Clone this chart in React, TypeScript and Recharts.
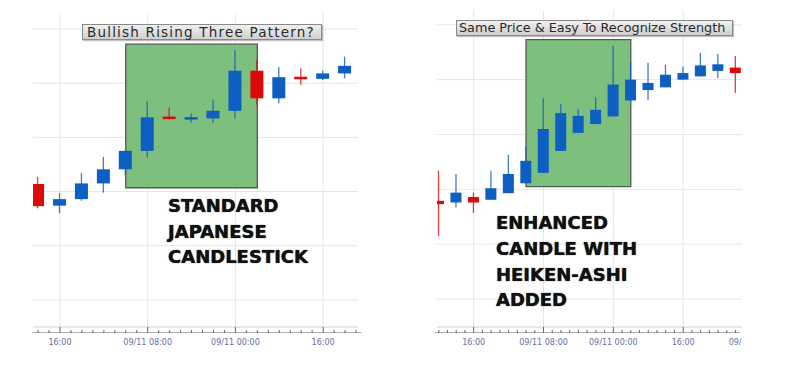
import { Bar, CartesianGrid, ComposedChart, ReferenceArea, XAxis, YAxis } from 'recharts';

// standard candles (left panel)
const leftOpen = [21.4, 17.4, 18.6, 21.5, 24.1, 27.5, 33.7, 33.4, 33.5, 34.9, 42.3, 37.2, 41.1, 40.8, 41.8];
const leftClose = [17.3, 18.6, 21.5, 24.1, 27.5, 33.7, 33.5, 33.6, 34.9, 42.3, 37.2, 41.1, 40.8, 41.8, 43.2];
const leftHigh = [22.7, 19.7, 23.4, 26.4, 27.7, 36.6, 35.5, 34.4, 37.0, 46.1, 44.3, 43.0, 42.7, 42.3, 44.9];
const leftLow = [16.9, 16.0, 18.3, 19.8, 23.0, 26.3, 33.4, 32.7, 32.7, 33.5, 36.0, 36.3, 39.7, 40.6, 40.9];
const leftMajorIdx = [1, 5, 9, 13];
const leftMajorLabels = ['16:00', '09/11 08:00', '09/11 00:00', '16:00'];
const leftBox = { x: [4, 10], y: [20.7, 47.2] };

// heiken-ashi candles (right panel)
const rightOpen = [17.9, 17.6, 18.6, 18.1, 19.3, 21.1, 23.0, 27.0, 30.3, 31.9, 33.3, 36.2, 38.1, 38.6, 40.0, 40.6, 41.6, 42.2];
const rightClose = [17.3, 19.4, 17.6, 20.2, 22.8, 25.2, 31.0, 33.9, 33.4, 34.5, 39.1, 40.0, 39.4, 40.9, 41.2, 42.6, 42.8, 41.2];
const rightHigh = [23.4, 22.8, 19.4, 23.4, 26.3, 27.8, 36.6, 35.5, 34.6, 36.8, 46.2, 43.2, 43.1, 42.7, 42.4, 44.9, 44.7, 44.3];
const rightLow = [11.5, 16.7, 15.7, 18.1, 19.3, 21.1, 23.0, 27.0, 30.3, 31.9, 33.3, 36.2, 36.3, 38.6, 40.0, 40.6, 40.3, 37.6];
const rightMajorIdx = [2, 6, 10, 14, 18];
const rightMajorLabels = ['16:00', '09/11 08:00', '09/11 00:00', '16:00', '09/12 08:00'];
const rightBox = { x: [5, 11], y: [20.5, 47.3] };

const gridValues = [0, 10, 20, 30, 40, 50];

const BLUE = '#0d5fc2';
const RED = '#dd0a0a';

function buildRows(open: number[], close: number[], high: number[], low: number[]) {
  return open.map((o, i) => ({ i, open: o, close: close[i], high: high[i], low: low[i], range: [low[i], high[i]] }));
}

function halfSteps(domain: number[]) {
  const out: number[] = [];
  for (let v = Math.ceil(domain[0] * 2) / 2; v <= domain[1]; v += 0.5) out.push(v);
  return out;
}

function Candle(props: any) {
  const { x, y, width, height, payload } = props;
  const { open, close, high, low } = payload;
  const top = Math.min(y, y + height);
  const h = Math.abs(height);
  const k = high === low ? 0 : h / (high - low);
  const yOf = (v: number) => top + (high - v) * k;
  const color = close >= open ? BLUE : RED;
  const cx = x + width / 2;
  let bodyTop = yOf(Math.max(open, close));
  let bodyH = Math.abs(open - close) * k;
  if (bodyH < 2.5) {
    bodyTop = bodyTop + bodyH / 2 - 1.25;
    bodyH = 2.5;
  }
  return (
    <g>
      <line x1={cx} x2={cx} y1={top} y2={top + h} stroke={color} strokeOpacity={0.8} strokeWidth={1.3} />
      <rect x={x} y={bodyTop} width={width} height={bodyH} fill={color} />
    </g>
  );
}

function makeTick(majors: number[], labels: string[], stepPx: number) {
  return (props: any) => {
    const { x, y, payload } = props;
    const m = majors.indexOf(payload.value);
    return (
      <g>
        <line x1={x - stepPx / 2} x2={x + stepPx / 2} y1={y + 5.5} y2={y + 5.5} stroke="#9a9a9a" strokeWidth={0.8} />
        <line x1={x} x2={x} y1={m >= 0 ? y : y + 3} y2={y + 6} stroke="#666" strokeWidth={1} />
        {m >= 0 && (
          <text x={x} y={y + 18} textAnchor="middle" fontFamily="DejaVu Sans" fontSize={8} fill="#6a6aa8">
            {labels[m]}
          </text>
        )}
      </g>
    );
  };
}

// map a domain value onto the plot's pixel span (same linear mapping the axes use)
function lerp(v: number, domain: number[], start: number, size: number, flip: boolean) {
  const t = (v - domain[0]) / (domain[1] - domain[0]);
  return flip ? start + (1 - t) * size : start + t * size;
}

interface PanelProps {
  rows: any[];
  xDomain: number[];
  yDomain: number[];
  majors: number[];
  labels: string[];
  box: { x: number[]; y: number[] };
  width: number;
  margin: { top: number; right: number; bottom: number; left: number };
  barSize: number;
  stepPx: number;
}

function Panel({ rows, xDomain, yDomain, majors, labels, box, width, margin, barSize, stepPx }: PanelProps) {
  return (
    <ComposedChart width={width} height={365} data={rows} margin={margin}>
      <YAxis hide type="number" domain={yDomain} ticks={gridValues} allowDataOverflow />
      <XAxis xAxisId="bars" hide type="number" dataKey="i" domain={xDomain} ticks={rows.map((r) => r.i)} allowDataOverflow />
      <XAxis
        xAxisId="axis"
        type="number"
        dataKey="i"
        domain={xDomain}
        ticks={halfSteps(xDomain).concat(majors.filter((v) => v > xDomain[1]))}
        interval={0}
        allowDataOverflow
        height={38}
        tickLine={false}
        tickSize={0}
        tickMargin={0}
        axisLine={{ stroke: '#c6d3e6', strokeWidth: 1.2 }}
        tick={makeTick(majors, labels, stepPx)}
      />
      <CartesianGrid
        xAxisId="bars"
        stroke="#e6e6e6"
        verticalCoordinatesGenerator={({ offset }: any) =>
          majors.filter((v) => v <= xDomain[1]).map((v) => lerp(v, xDomain, offset.left, offset.width, false))
        }
        horizontalCoordinatesGenerator={({ offset }: any) =>
          gridValues.map((v) => lerp(v, yDomain, offset.top, offset.height, true))
        }
      />
      <ReferenceArea
        xAxisId="bars"
        x1={box.x[0]}
        x2={box.x[1]}
        y1={box.y[0]}
        y2={box.y[1]}
        fill="#66b466"
        fillOpacity={0.85}
        stroke="#4f5c4f"
        strokeWidth={1.3}
        strokeOpacity={1}
      />
      <Bar xAxisId="bars" dataKey="range" barSize={barSize} isAnimationActive={false} shape={Candle} />
    </ComposedChart>
  );
}

const titleStyle = {
  position: 'absolute' as const,
  boxSizing: 'border-box' as const,
  height: 16,
  border: '1px solid #8a8a8a',
  background: 'linear-gradient(#f0f0f0, #cfcfcf)',
  fontFamily: 'DejaVu Sans',
  color: '#2a2a2a',
  lineHeight: '14px',
  whiteSpace: 'nowrap' as const,
  boxShadow: '1px 1px 1px rgba(0,0,0,0.25)',
};

const bigText = {
  position: 'absolute' as const,
  fontFamily: 'DejaVu Sans',
  fontWeight: 'bold' as const,
  fontSize: 18,
  color: '#111',
  textShadow: '0 0 1px #000',
  whiteSpace: 'nowrap' as const,
};

export default function App() {
  const leftRows = buildRows(leftOpen, leftClose, leftHigh, leftLow);
  const rightRows = buildRows(rightOpen, rightClose, rightHigh, rightLow);
  return (
    <div style={{ position: 'absolute', left: 0, top: 0, width: 800, height: 365, background: '#fff', overflow: 'hidden' }}>
      <div style={{ position: 'absolute', left: 0, top: 0, width: 400, height: 365 }}>
        <Panel
          rows={leftRows}
          xDomain={[-0.23, 14.59]}
          yDomain={[-5, 52.95]}
          majors={leftMajorIdx}
          labels={leftMajorLabels}
          box={leftBox}
          width={400}
          margin={{ top: 13, right: 42, bottom: 0, left: 33 }}
          barSize={13}
          stepPx={11}
        />
      </div>
      <div style={{ position: 'absolute', left: 400, top: 0, width: 342, height: 365, overflow: 'hidden' }}>
        <Panel
          rows={rightRows}
          xDomain={[-0.1, 17.37]}
          yDomain={[-5.1, 52.7]}
          majors={rightMajorIdx}
          labels={rightMajorLabels}
          box={rightBox}
          width={342}
          margin={{ top: 10, right: 0, bottom: 0, left: 37 }}
          barSize={11}
          stepPx={8.75}
        />
      </div>
      <div style={{ ...titleStyle, left: 82, top: 24, width: 240, fontSize: 13.5, letterSpacing: 1.2, paddingLeft: 4 }}>
        Bullish Rising Three Pattern?
      </div>
      <div style={{ ...titleStyle, left: 456, top: 20, width: 277, fontSize: 12.8, paddingLeft: 2 }}>
        Same Price &amp; Easy To Recognize Strength
      </div>
      <div style={{ ...bigText, left: 168, top: 193, lineHeight: '25.5px' }}>
        STANDARD
        <br />
        JAPANESE
        <br />
        CANDLESTICK
      </div>
      <div style={{ ...bigText, left: 496, top: 210, lineHeight: '25.8px' }}>
        ENHANCED
        <br />
        CANDLE WITH
        <br />
        HEIKEN-ASHI
        <br />
        ADDED
      </div>
    </div>
  );
}
